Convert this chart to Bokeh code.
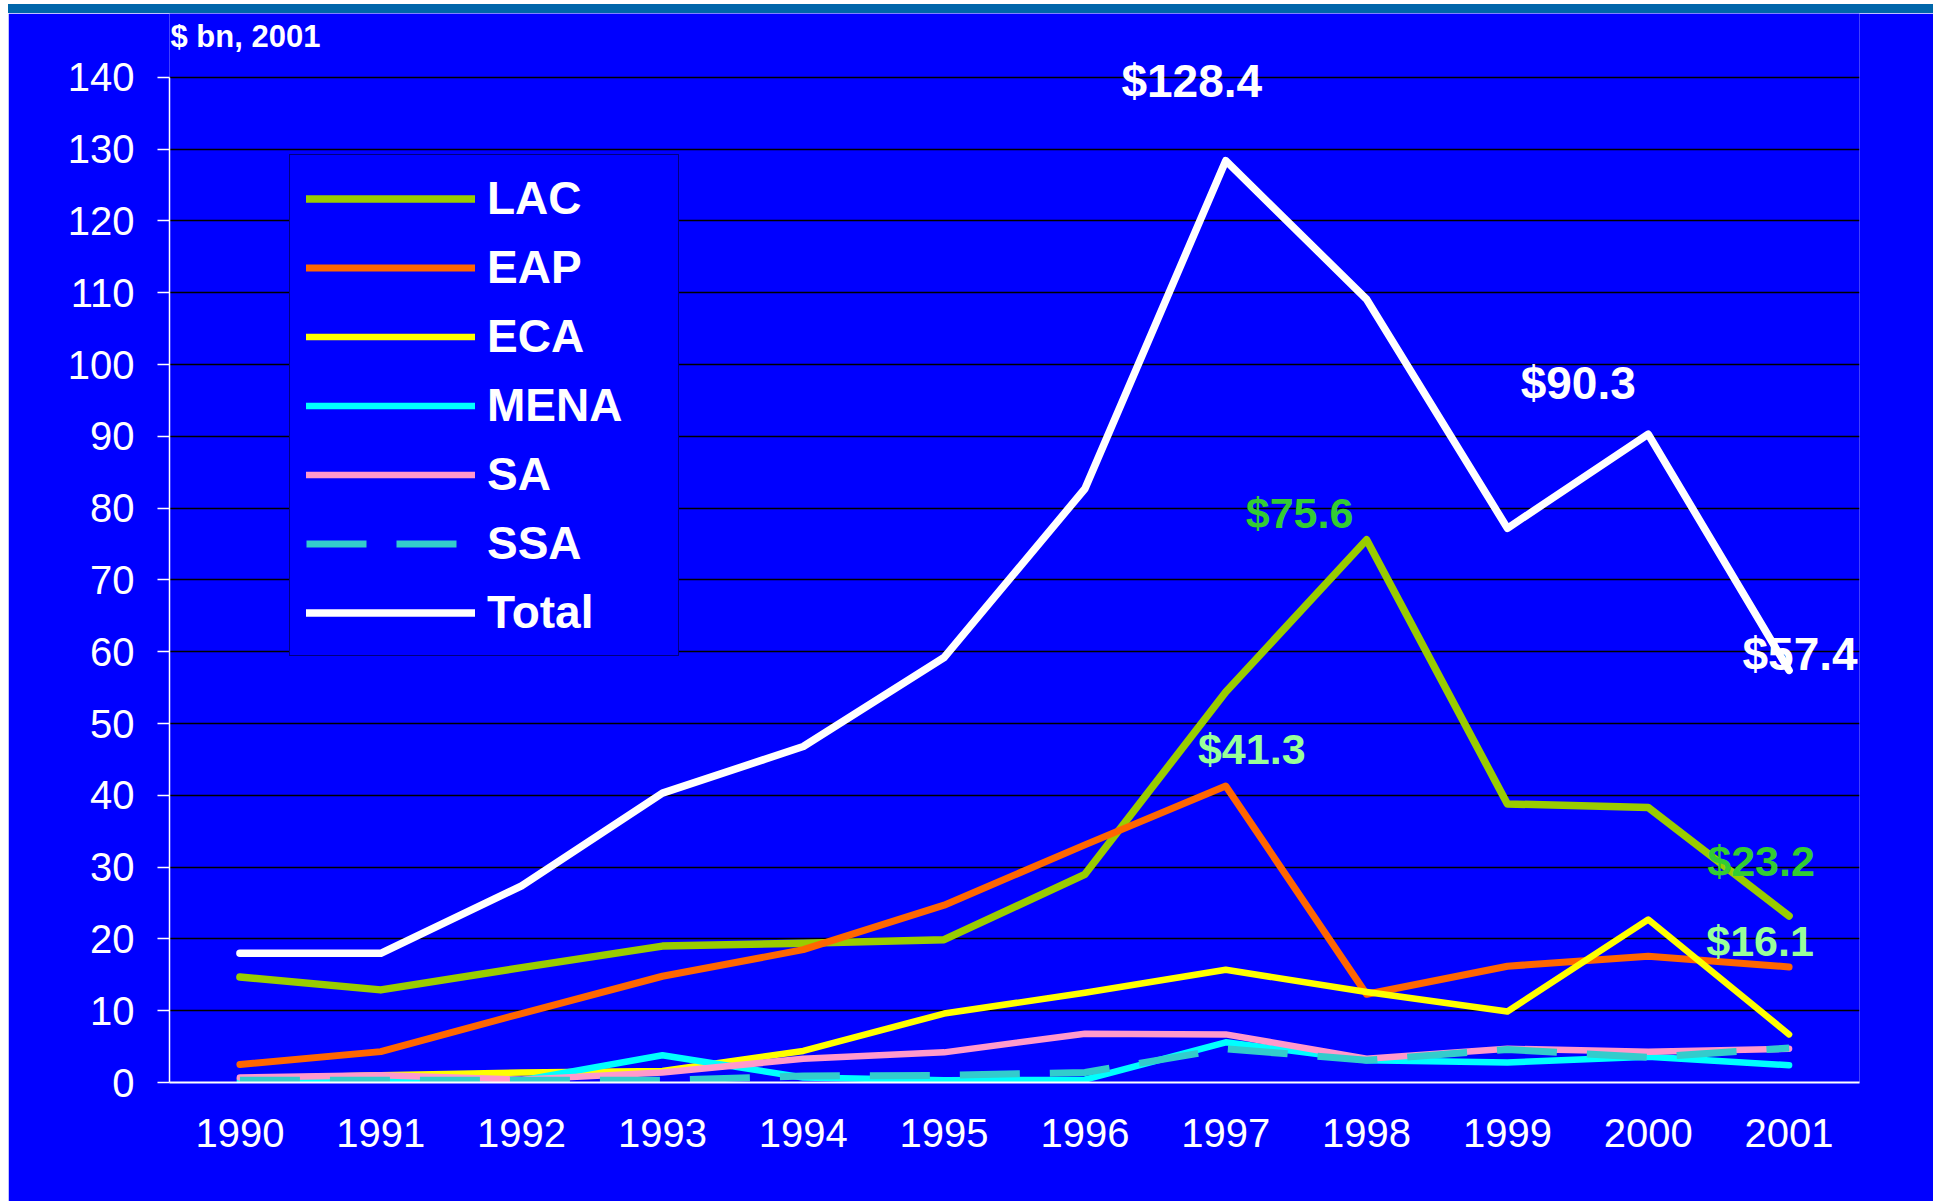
from bokeh.plotting import figure
from bokeh.models import (FactorRange, Range1d, FixedTicker, Legend, LegendItem,
                          Label, Div)
from bokeh.layouts import column
from bokeh.embed import file_html
from bokeh.resources import INLINE

# ---------------- data ----------------
years = ["1990", "1991", "1992", "1993", "1994", "1995",
         "1996", "1997", "1998", "1999", "2000", "2001"]
lac = [14.7, 12.9, 16.0, 19.0, 19.4, 19.9, 29.0, 54.4, 75.6, 38.8, 38.3, 23.2]
eap = [2.5, 4.3, 9.6, 14.8, 18.5, 24.7, 33.1, 41.3, 12.3, 16.2, 17.6, 16.1]
eca = [0.5, 1.0, 1.4, 1.6, 4.4, 9.6, 12.5, 15.7, 12.6, 9.9, 22.7, 6.7]
mena = [0.2, 0.3, 0.3, 3.8, 0.7, 0.3, 0.4, 5.6, 3.1, 2.8, 3.6, 2.4]
sa = [0.7, 1.0, 0.4, 1.4, 3.3, 4.2, 6.8, 6.7, 3.3, 4.7, 4.3, 4.7]
ssa = [0.3, 0.3, 0.3, 0.3, 0.9, 1.0, 1.4, 4.7, 3.1, 4.6, 3.5, 4.8]
total = [18.0, 18.0, 27.4, 40.3, 46.8, 59.2, 82.7, 128.4, 109.1, 77.2, 90.3, 57.4]

series_names = ["LAC", "EAP", "ECA", "MENA", "SA", "SSA", "Total"]
y_ticks = [0, 10, 20, 30, 40, 50, 60, 70, 80, 90, 100, 110, 120, 130, 140]
unit_title = "$ bn, 2001"

# value call-outs
white_label_years = ["1997", "2000", "2001"]
white_label_values = [128.4, 90.3, 57.4]
green_label_years = ["1998", "1997", "2001", "2001"]
green_label_values = [75.6, 41.3, 23.2, 16.1]

# ---------------- styling ----------------
BLUE = "#0000FF"
FONT = "Liberation Sans"
colors = ["#99CC00", "#FF6600", "#FFFF00", "#00FFFF", "#FF99CC", "#33CCCC", "#FFFFFF"]
widths = [7.5, 7, 6.5, 6.5, 6.5, 7, 7.5]
Y_TOP = 148.9         # headroom above 140 so the call-out labels are not clipped

p = figure(width=1925, height=1188,
           x_range=FactorRange(factors=years),
           y_range=Range1d(0, Y_TOP),
           output_backend="svg", toolbar_location=None,
           min_border_left=161, min_border_right=74,
           min_border_top=0, min_border_bottom=119,
           background_fill_color=BLUE, border_fill_color=BLUE,
           outline_line_color=None)

ticker = FixedTicker(ticks=y_ticks)
p.yaxis.ticker = ticker
p.ygrid.ticker = ticker
p.yaxis.bounds = (y_ticks[0], y_ticks[-1])
p.yaxis.axis_line_color = "white"
p.yaxis.axis_line_width = 1.5
p.yaxis.major_tick_line_color = "white"
p.yaxis.major_tick_line_width = 1.5
p.yaxis.major_tick_out = 12
p.yaxis.major_tick_in = 0
p.yaxis.minor_tick_line_color = None
p.yaxis.major_label_text_color = "white"
p.yaxis.major_label_text_font = FONT
p.yaxis.major_label_text_font_size = "40px"
p.yaxis.major_label_standoff = 23

p.xaxis.axis_line_color = "white"
p.xaxis.axis_line_width = 2
p.xaxis.major_tick_line_color = None
p.xaxis.minor_tick_line_color = None
p.xaxis.major_label_text_color = "white"
p.xaxis.major_label_text_font = FONT
p.xaxis.major_label_text_font_size = "40px"
p.xaxis.major_label_standoff = 30

p.xgrid.grid_line_color = None
p.ygrid.grid_line_color = "black"
p.ygrid.grid_line_width = 1.5

all_series = [lac, eap, eca, mena, sa, ssa, total]
renderers = []
for name, vals, c, w in zip(series_names, all_series, colors, widths):
    if name == "SSA":
        r = p.line(x=years, y=vals, line_color=c, line_width=w,
                   line_dash="60 30", line_cap="butt", line_join="round")
    else:
        r = p.line(x=years, y=vals, line_color=c, line_width=w,
                   line_cap="round", line_join="round")
    renderers.append(r)

legend = Legend(items=[LegendItem(label=n, renderers=[r]) for n, r in zip(series_names, renderers)],
                location=(120, 426), margin=0, padding=16,
                glyph_width=169, glyph_height=53, label_height=53, spacing=15,
                label_standoff=12, label_width=175,
                label_text_font=FONT, label_text_font_size="46px",
                label_text_font_style="bold", label_text_color="white",
                background_fill_color=BLUE, background_fill_alpha=1.0,
                border_line_color="black", border_line_width=1.5)
p.add_layout(legend)

# unit title, anchored at the top of the value axis (x=0, y=140)
p.add_layout(Label(x=0, y=y_ticks[-1], text=unit_title, x_offset=1, y_offset=41,
                   text_align="left", text_baseline="alphabetic",
                   text_font=FONT, text_font_size="31px", text_font_style="bold",
                   text_color="white"))

# value labels (x in synthetic categorical coordinates: category centre = index + 0.5)
white_offsets = [(-34, 80), (-70, 51), (11, 16)]
for yr, v, (dx, dy) in zip(white_label_years, white_label_values, white_offsets):
    p.add_layout(Label(x=years.index(yr) + 0.5, y=v, text="$" + str(v),
                       x_offset=dx, y_offset=dy,
                       text_align="center", text_baseline="middle",
                       text_font=FONT, text_font_size="46px", text_font_style="bold",
                       text_color="white"))

green_colors = ["#33CC33", "#99FF99", "#33CC33", "#99FF99"]
green_offsets = [(-67, 27), (26, 37), (-28, 55), (-29, 26)]
for yr, v, c, (dx, dy) in zip(green_label_years, green_label_values, green_colors, green_offsets):
    p.add_layout(Label(x=years.index(yr) + 0.5, y=v, text="$" + str(v),
                       x_offset=dx, y_offset=dy,
                       text_align="center", text_baseline="middle",
                       text_font=FONT, text_font_size="43px", text_font_style="bold",
                       text_color=c))

strip = Div(text="", width=1925, height=9, margin=0,
            styles={"background-color": "#0066AA"})
layout = column(strip, p, spacing=0, margin=(4, 0, 0, 8))

open("out.html", "w").write(file_html(layout, INLINE))
